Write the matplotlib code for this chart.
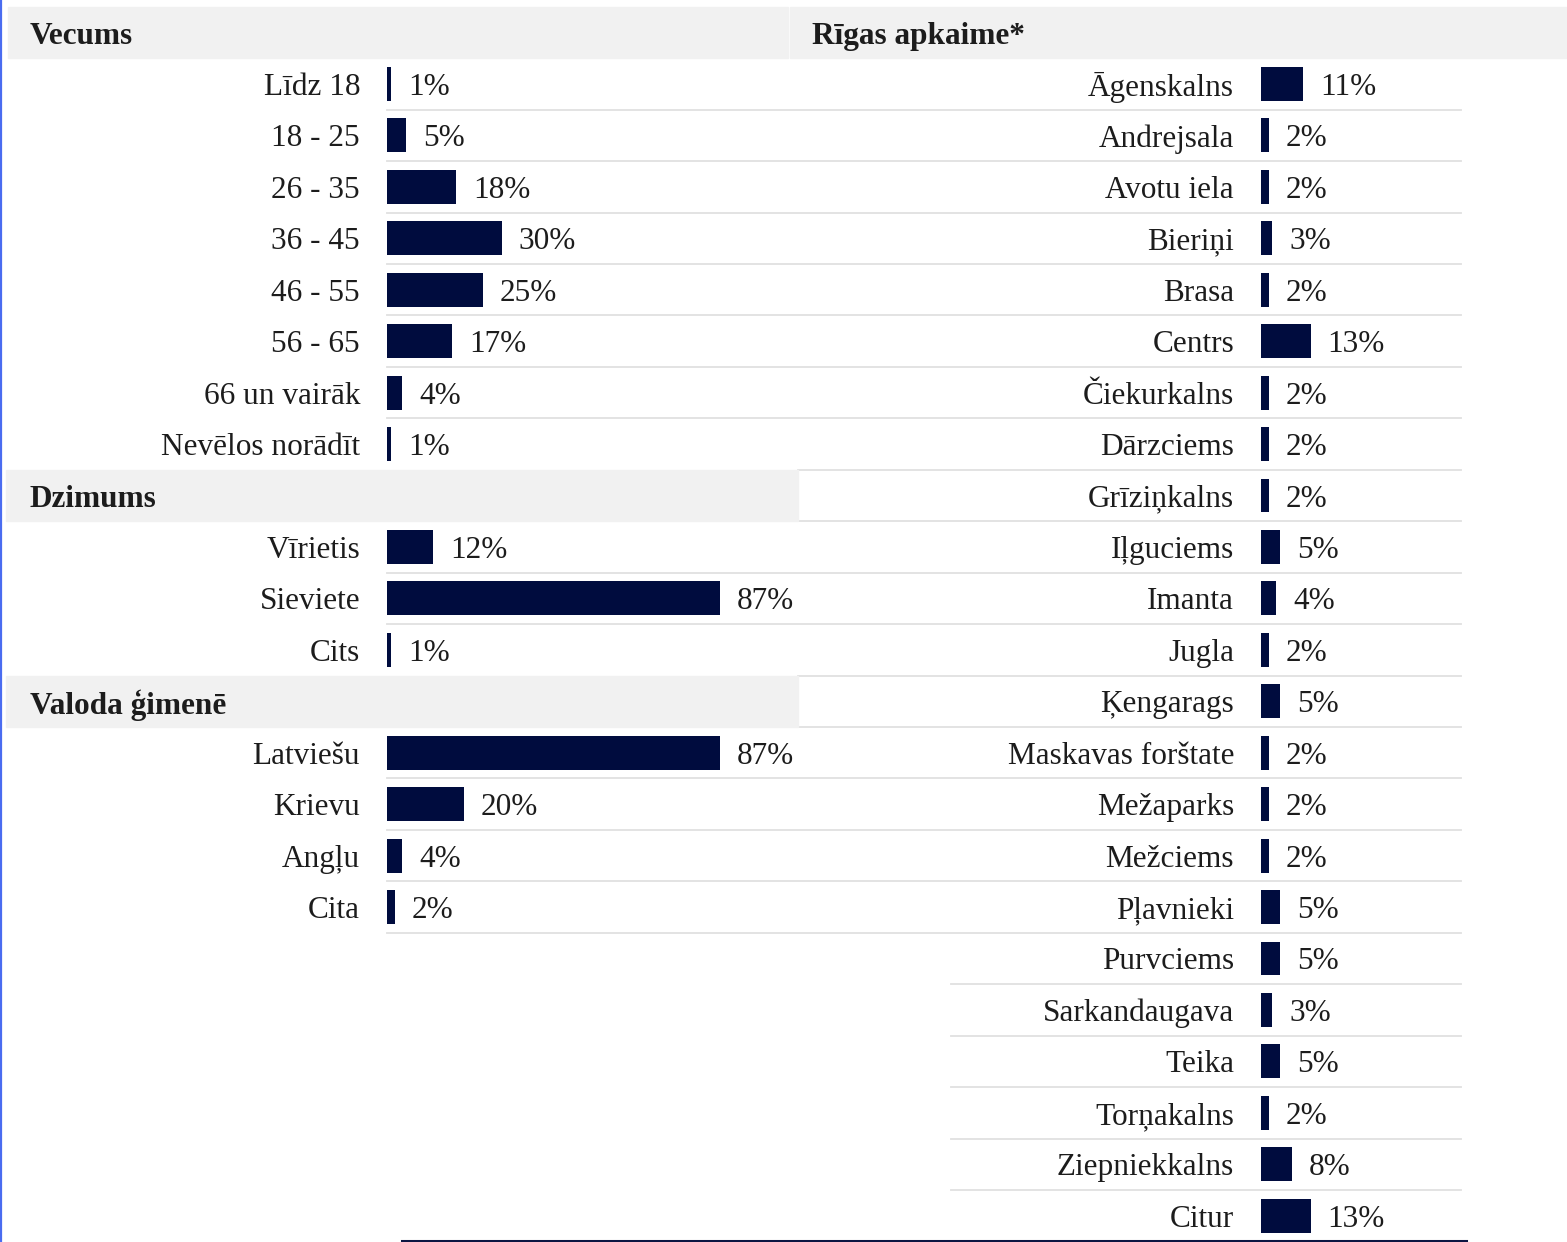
import matplotlib.pyplot as plt

plt.rcParams['font.family'] = ['Liberation Serif', 'DejaVu Serif']

# --- data ---
age_labels = ['Līdz 18', '18 - 25', '26 - 35', '36 - 45', '46 - 55', '56 - 65',
              '66 un vairāk', 'Nevēlos norādīt']
age_vals = [1, 5, 18, 30, 25, 17, 4, 1]

gender_labels = ['Vīrietis', 'Sieviete', 'Cits']
gender_vals = [12, 87, 1]

lang_labels = ['Latviešu', 'Krievu', 'Angļu', 'Cita']
lang_vals = [87, 20, 4, 2]

area_labels = ['Āgenskalns', 'Andrejsala', 'Avotu iela', 'Bieriņi', 'Brasa', 'Centrs',
               'Čiekurkalns', 'Dārzciems', 'Grīziņkalns', 'Iļguciems', 'Imanta', 'Jugla',
               'Ķengarags', 'Maskavas forštate', 'Mežaparks', 'Mežciems', 'Pļavnieki',
               'Purvciems', 'Sarkandaugava', 'Teika', 'Torņakalns', 'Ziepniekkalns', 'Citur']
area_vals = [11, 2, 2, 3, 2, 13, 2, 2, 2, 5, 4, 2, 5, 2, 2, 2, 5, 5, 3, 5, 2, 8, 13]

left_groups = [('Vecums', age_labels, age_vals),
               ('Dzimums', gender_labels, gender_vals),
               ('Valoda ģimenē', lang_labels, lang_vals)]

# --- layout (pixels) ---
W, H = 1567, 1242
ROW0 = 84.0      # centre of first data row
PITCH = 51.44    # row height
PX = 3.83        # pixels per percent
BAR_COLOR = '#000c3e'
BAND_COLOR = '#f1f1f1'
LINE_COLOR = '#e0e0e0'
TEXT_COLOR = '#1c1c1c'
FS = 22.5


def row_y(i):
    return ROW0 + i * PITCH


fig = plt.figure(figsize=(W / 100, H / 100), dpi=100)
bg = fig.add_axes([0, 0, 1, 1])
bg.set_xlim(0, W)
bg.set_ylim(H, 0)
bg.axis('off')

# left row positions: a header row before each group (first header sits at -1)
left_pos, left_lab, left_val, header_rows = [], [], [], []
r = -1
for title, labs, vals in left_groups:
    header_rows.append((title, r))
    r += 1
    for lab, v in zip(labs, vals):
        left_pos.append(r)
        left_lab.append(lab)
        left_val.append(v)
        r += 1
right_pos = list(range(len(area_labels)))
header_idx = [hr for _, hr in header_rows]

# separators under each row
for p in right_pos[:-1]:
    y = row_y(p) + PITCH / 2
    if p in left_pos and p + 1 not in header_idx:
        x0 = 387
    elif p in header_idx or p + 1 in header_idx:
        x0 = 798
    else:
        x0 = 951
    bg.plot([x0, 1461], [y, y], color=LINE_COLOR, lw=1.3, zorder=1)

# header bands
for title, hr in header_rows:
    top = row_y(hr) - PITCH / 2
    if hr == -1:
        bg.add_patch(plt.Rectangle((8, top), 780, PITCH, color=BAND_COLOR, zorder=2))
        bg.add_patch(plt.Rectangle((790, top), W - 790, PITCH, color=BAND_COLOR, zorder=2))
        bg.text(812, row_y(hr), 'Rīgas apkaime*', fontsize=FS, fontweight='bold',
                color=TEXT_COLOR, va='center_baseline', zorder=3)
    else:
        bg.add_patch(plt.Rectangle((6, top), 792, PITCH, color=BAND_COLOR, zorder=2))
    bg.text(30, row_y(hr), title, fontsize=FS, fontweight='bold',
            color=TEXT_COLOR, va='center_baseline', zorder=3)

# bottom rule and left border
bg.plot([402, 1466], [1240.5, 1240.5], color='#0b1542', lw=2.2, zorder=3)
bg.plot([1, 1], [0, H], color='#4a6cf0', lw=1.6, zorder=3)

# bar axes share the figure's vertical mapping
top_px = row_y(-1) - PITCH / 2
bot_px = row_y(22) + PITCH / 2


def bar_axes(x0, x1):
    ax = fig.add_axes([x0 / W, 1 - bot_px / H, (x1 - x0) / W, (bot_px - top_px) / H])
    ax.set_xlim(0, (x1 - x0) / PX)
    ax.set_ylim(22.5, -1.5)
    ax.patch.set_alpha(0)
    for s in ax.spines.values():
        s.set_visible(False)
    ax.set_xticks([])
    ax.tick_params(axis='y', length=0, pad=19.4, labelsize=FS, labelcolor=TEXT_COLOR)
    return ax


axL = bar_axes(387, 951)
bars = axL.barh(left_pos, left_val, height=0.66, color=BAR_COLOR, zorder=3)
for t in axL.bar_label(bars, labels=[f'{v}%' for v in left_val], padding=12.2,
                       fontsize=FS, color=TEXT_COLOR):
    t.set_va('center_baseline')
axL.set_yticks(left_pos, left_lab)

axR = bar_axes(1261, 1461)
bars = axR.barh(right_pos, area_vals, height=0.66, color=BAR_COLOR, zorder=3)
for t in axR.bar_label(bars, labels=[f'{v}%' for v in area_vals], padding=12.2,
                       fontsize=FS, color=TEXT_COLOR, clip_on=False):
    t.set_va('center_baseline')
axR.set_yticks(right_pos, area_labels)

fig.savefig('out.png', dpi=100)
